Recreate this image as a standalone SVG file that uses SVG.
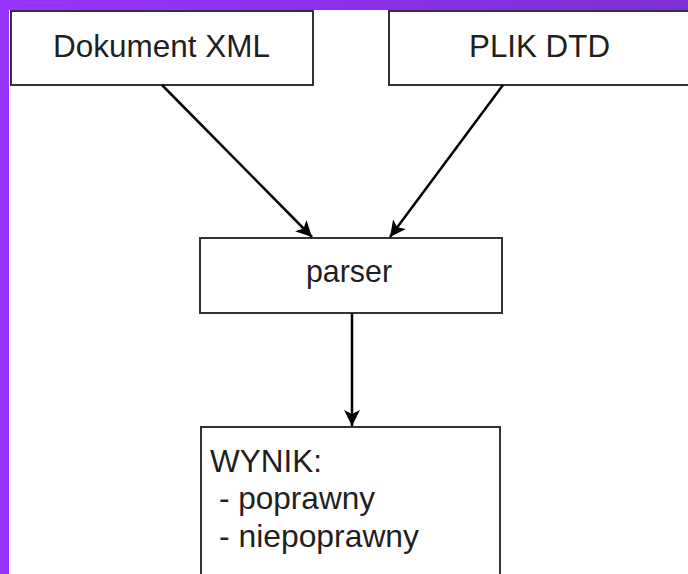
<svg xmlns="http://www.w3.org/2000/svg" width="688" height="574" viewBox="0 0 688 574">
<defs>
<linearGradient id="topband" x1="0" y1="0" x2="1" y2="0">
<stop offset="0" stop-color="#9933ff"/>
<stop offset="1" stop-color="#7c2fd4"/>
</linearGradient>
<marker id="arrow" markerUnits="userSpaceOnUse" markerWidth="16" markerHeight="16" viewBox="0 0 16 16" refX="16" refY="8" orient="auto">
<path d="M0,0 L16,8 L0,16 L4,8 Z" fill="#000"/>
</marker>
<style>
.box{fill:#fff;stroke:#333;stroke-width:2}
.lbl{font-family:"Liberation Sans",Arial,sans-serif;font-size:30.5px;fill:#1f1f1f}
.conn{stroke:#000;stroke-width:2.5;fill:none;marker-end:url(#arrow)}
</style>
</defs>
<rect x="0" y="0" width="688" height="574" fill="#fff"/>
<rect x="0" y="0" width="688" height="10" fill="url(#topband)"/>
<rect x="0" y="0" width="9" height="574" fill="#9933ff"/>
<g id="dokument">
<rect class="box" x="11" y="11" width="302" height="74"/>
<text class="lbl" x="53" y="57" textLength="217" lengthAdjust="spacingAndGlyphs">Dokument XML</text>
</g>
<g id="plik">
<rect class="box" x="389" y="11" width="310" height="74"/>
<text class="lbl" x="469" y="57" textLength="141" lengthAdjust="spacingAndGlyphs">PLIK DTD</text>
</g>
<g id="parser">
<rect class="box" x="200" y="238" width="302" height="75"/>
<text class="lbl" x="306" y="282" textLength="86" lengthAdjust="spacingAndGlyphs">parser</text>
</g>
<g id="wynik">
<rect class="box" x="201" y="427" width="299" height="160"/>
<text class="lbl" x="210" y="472" textLength="112" lengthAdjust="spacingAndGlyphs">WYNIK:</text>
<text class="lbl" x="219" y="509" textLength="156" lengthAdjust="spacingAndGlyphs">- poprawny</text>
<text class="lbl" x="219" y="547" textLength="200" lengthAdjust="spacingAndGlyphs">- niepoprawny</text>
</g>
<g id="connectors">
<line class="conn" x1="162" y1="85" x2="312" y2="237"/>
<line class="conn" x1="503" y1="85" x2="390" y2="237"/>
<line class="conn" x1="352" y1="313" x2="352" y2="426"/>
</g>
</svg>
